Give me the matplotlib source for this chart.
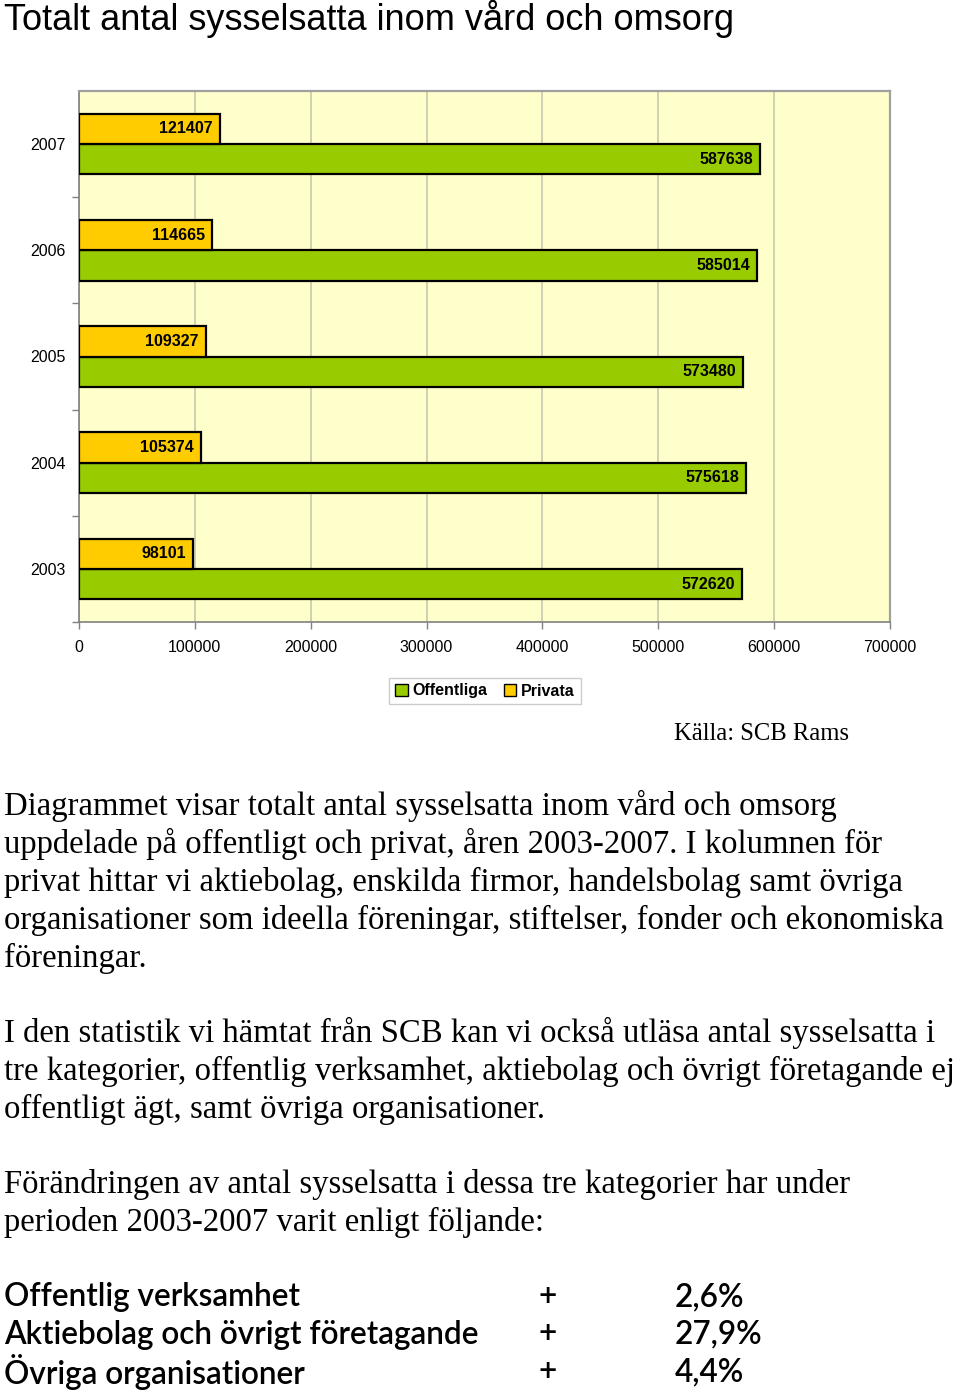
import matplotlib
matplotlib.use("Agg")
import matplotlib.pyplot as plt
from matplotlib.patches import Patch
from matplotlib.ticker import FixedLocator

years = ["2003", "2004", "2005", "2006", "2007"]
offentliga = [572620, 575618, 573480, 585014, 587638]
privata = [98101, 105374, 109327, 114665, 121407]
xticks = [0, 100000, 200000, 300000, 400000, 500000, 600000, 700000]

title = "Totalt antal sysselsatta inom vård och omsorg"
source = "Källa: SCB Rams"
para1 = ["Diagrammet visar totalt antal sysselsatta inom vård och omsorg",
         "uppdelade på offentligt och privat, åren 2003-2007. I kolumnen för",
         "privat hittar vi aktiebolag, enskilda firmor, handelsbolag samt övriga",
         "organisationer som ideella föreningar, stiftelser, fonder och ekonomiska",
         "föreningar."]
para2 = ["I den statistik vi hämtat från SCB kan vi också utläsa antal sysselsatta i",
         "tre kategorier, offentlig verksamhet, aktiebolag och övrigt företagande ej",
         "offentligt ägt, samt övriga organisationer."]
para3 = ["Förändringen av antal sysselsatta i dessa tre kategorier har under",
         "perioden 2003-2007 varit enligt följande:"]
cat_names = ["Offentlig verksamhet", "Aktiebolag och övrigt företagande", "Övriga organisationer"]
cat_signs = ["+", "+", "+"]
cat_changes = ["2,6%", "27,9%", "4,4%"]

W, H = 960, 1391
fig = plt.figure(figsize=(W / 100, H / 100), dpi=100)
fig.patch.set_facecolor("white")

def fy(px):
    return 1 - px / H

def fx(px):
    return px / W

green = "#99cc00"
yellow = "#ffcc00"

ax = fig.add_axes([fx(79), fy(622), fx(890) - fx(79), fy(91) - fy(622)])
ax.set_facecolor("#ffffcc")
pos = list(range(len(years)))
bh = 0.285
gb = ax.barh([p - bh / 2 for p in pos], offentliga, height=bh, color=green,
             edgecolor="black", linewidth=1.6, zorder=3)
yb = ax.barh([p + bh / 2 for p in pos], privata, height=bh, color=yellow,
             edgecolor="black", linewidth=1.6, zorder=3)
for bars, vals in ((gb, offentliga), (yb, privata)):
    for b, v in zip(bars, vals):
        ax.annotate(str(v), xy=(b.get_width(), b.get_y() + b.get_height() / 2),
                    xytext=(-5, 0), textcoords="offset points", ha="right", va="center",
                    fontsize=11.5, fontweight="bold", family="Liberation Sans", zorder=4)

ax.set_xlim(0, 700000)
ax.set_ylim(-0.5, 4.5)
ax.set_xticks(xticks)
ax.set_xticklabels([str(t) for t in xticks], fontsize=11.5, family="Liberation Sans")
ax.set_yticks(pos)
ax.set_yticklabels(years, fontsize=11.5, family="Liberation Sans")
ax.yaxis.set_minor_locator(FixedLocator([p + 0.5 for p in pos[:-1]] + [-0.5]))
ax.tick_params(axis="y", which="major", length=0, pad=9.5)
ax.tick_params(axis="y", which="minor", length=5, color="#808080", width=1)
ax.tick_params(axis="x", which="major", length=5, color="#808080", width=1, pad=8)
ax.grid(axis="x", color="#c8c8b0", linewidth=1.2, zorder=0)
ax.set_axisbelow(True)
for s in ("left", "bottom"):
    ax.spines[s].set_color("#808080")
    ax.spines[s].set_linewidth(1.2)
for s in ("top", "right"):
    ax.spines[s].set_color("#a0a0a0")
    ax.spines[s].set_linewidth(1.6)

handles = [Patch(facecolor=green, edgecolor="black", label="Offentliga"),
           Patch(facecolor=yellow, edgecolor="black", label="Privata")]
leg = fig.legend(handles=handles, loc="center", bbox_to_anchor=(fx(485), fy(691)), ncol=2,
                 frameon=True, fancybox=False, handlelength=0.8, handleheight=0.8,
                 handletextpad=0.3, columnspacing=1.0, borderpad=0.35,
                 prop={"family": "Liberation Sans", "weight": "bold", "size": 11.5})
leg.get_frame().set_edgecolor("#c0c0c0")
leg.get_frame().set_linewidth(1.0)

fig.text(fx(4), fy(19), title, fontsize=26, family="Liberation Sans", va="center", ha="left")
fig.text(fx(849), fy(734), source, fontsize=17.7, family="Liberation Serif", va="center", ha="right")

def block(lines, y0, step=38):
    for i, line in enumerate(lines):
        fig.text(fx(4), fy(y0 + i * step), line, fontsize=23.6, family="Liberation Serif",
                 va="center", ha="left")

block(para1, 806)
block(para2, 1033)
block(para3, 1184)

for i, (n, s, c) in enumerate(zip(cat_names, cat_signs, cat_changes)):
    y = fy(1297 + i * 37.5)
    kw = dict(fontsize=22.7, family="Lato", fontweight="semibold", va="center")
    fig.text(fx(4), y, n, ha="left", **kw)
    fig.text(fx(548), y, s, ha="center", **kw)
    fig.text(fx(675), y, c, ha="left", **kw)

fig.savefig("out.png", dpi=100)
